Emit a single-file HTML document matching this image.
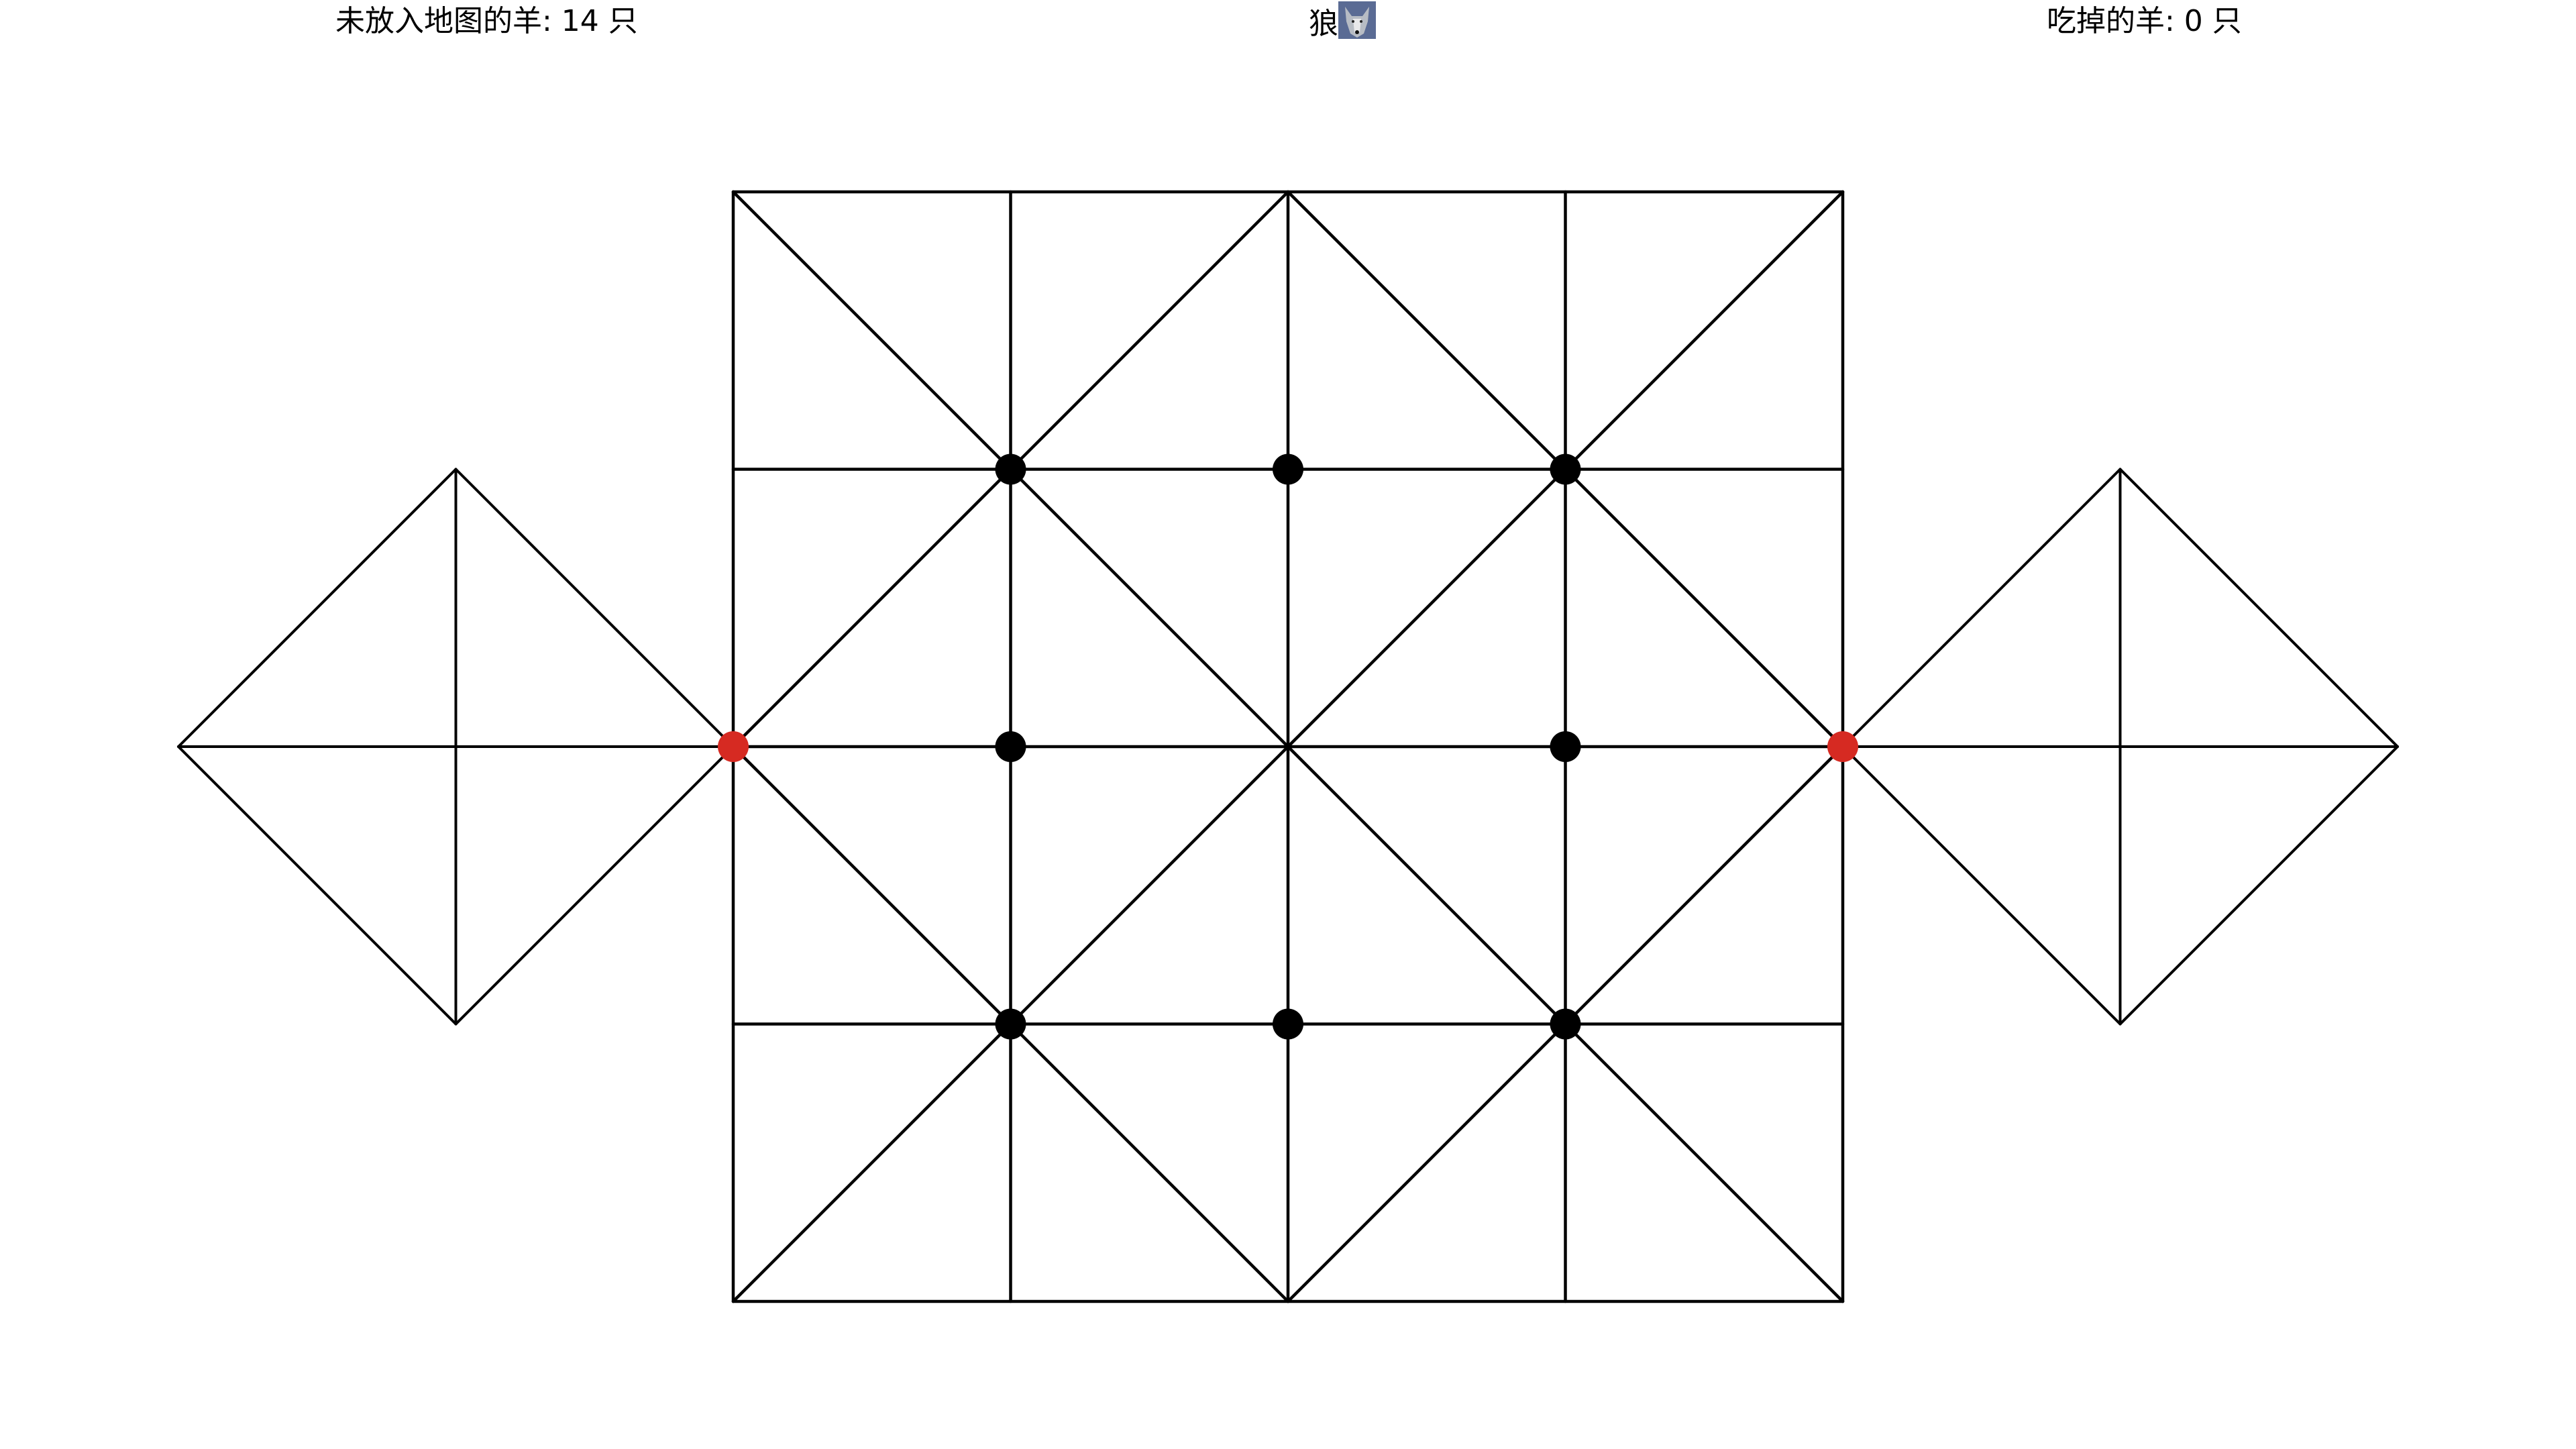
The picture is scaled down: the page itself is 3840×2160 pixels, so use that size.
<!DOCTYPE html>
<html><head><meta charset="utf-8">
<style>
html,body{margin:0;padding:0;background:#fff;width:3840px;height:2160px;overflow:hidden;}
.hdr{position:absolute;top:2px;font-family:"DejaVu Sans","Liberation Sans","Noto Sans CJK SC",sans-serif;font-size:44px;color:#000;white-space:nowrap;line-height:60px;}
svg{position:absolute;left:0;top:0;}
</style></head>
<body>
<div class="hdr" style="left:500px;">未放入地图的羊: 14 只</div>
<div class="hdr" style="left:1951px;">狼<svg width="56" height="56" viewBox="0 0 56 56" style="position:relative;vertical-align:-8px;left:0;top:0;"><rect width="56" height="56" fill="#5a6b94"/><polygon points="10,8 20,22 36,22 46,8 44,30 38,48 28,54 18,48 12,30" fill="#b7bcc4"/><polygon points="22,26 34,26 32,46 28,50 24,46" fill="#e8e8ea"/><circle cx="22" cy="30" r="2" fill="#222"/><circle cx="34" cy="30" r="2" fill="#222"/><circle cx="28" cy="46" r="3" fill="#111"/></svg></div>
<div class="hdr" style="left:3051px;">吃掉的羊: 0 只</div>
<svg id="board" width="3840" height="2160"></svg>
<script>
const cols=[0,1,2,3,4];
const rows=[0,1,2,3,4];
const blackDots=[[1,1],[2,1],[3,1],[1,2],[3,2],[1,3],[2,3],[3,3]];
const redDots=[[0,2],[4,2]];
const X0=1093,Y0=286,S=413.5;
const px=c=>X0+c*S, py=r=>Y0+r*S;
const svg=document.getElementById('board');
const NS='http://www.w3.org/2000/svg';
function line(a,b,c,d,w,name){
  const l=document.createElementNS(NS,'line');
  l.setAttribute('x1',px(a));l.setAttribute('y1',py(b));
  l.setAttribute('x2',px(c));l.setAttribute('y2',py(d));
  l.setAttribute('stroke','#000');l.setAttribute('stroke-width',w);
  l.setAttribute('stroke-linecap','round');
  
  
  svg.appendChild(l);
}
cols.forEach(c=>line(c,0,c,4,4.5,'grid-vertical-line'));
rows.forEach(r=>line(0,r,4,r,4.5,'grid-horizontal-line'));
[[0,0],[2,0],[0,2],[2,2]].forEach(([c,r])=>{
  line(c,r,c+2,r+2,4.5,'quadrant-diagonal');
  line(c+2,r,c,r+2,4.5,'quadrant-diagonal');
});
[[-2,0],[4,6]].forEach(([from,to])=>{
  const m=(from+to)/2;
  line(from,2,m,1,4,'diamond-edge');line(m,1,to,2,4,'diamond-edge');
  line(to,2,m,3,4,'diamond-edge');line(m,3,from,2,4,'diamond-edge');
  line(from,2,to,2,4,'diamond-horizontal');line(m,1,m,3,4,'diamond-vertical');
});
function dot(c,r,color,name){
  const e=document.createElementNS(NS,'circle');
  e.setAttribute('cx',px(c));e.setAttribute('cy',py(r));e.setAttribute('r',23);
  e.setAttribute('fill',color);
  
  
  svg.appendChild(e);
}
blackDots.forEach(([c,r])=>dot(c,r,'#000','sheep-piece'));
redDots.forEach(([c,r])=>dot(c,r,'#d62a22','wolf-piece'));
</script>
</body></html>
